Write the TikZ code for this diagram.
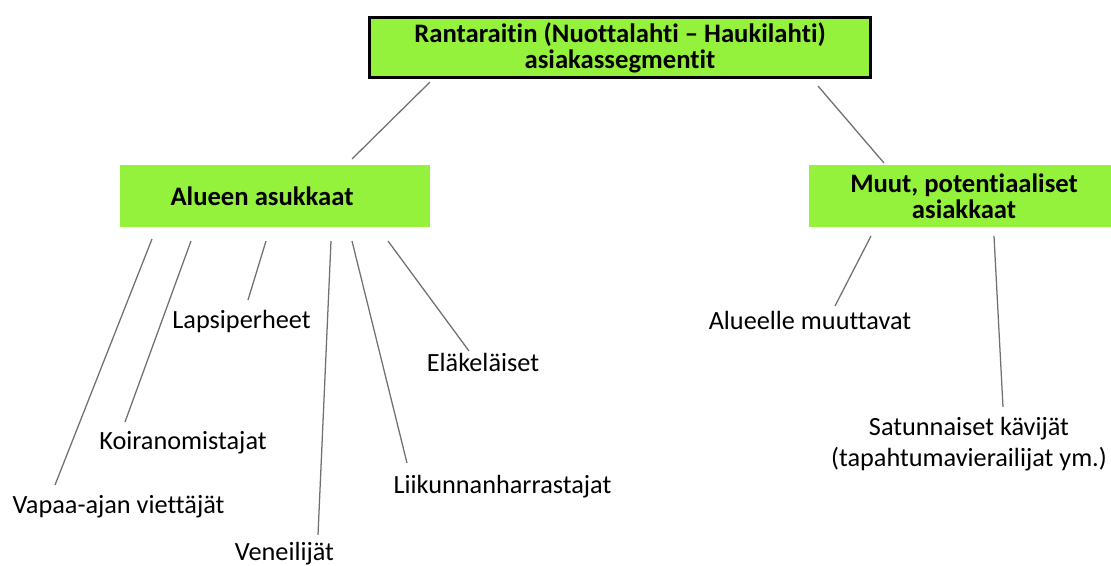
\documentclass[tikz,border=0pt]{standalone}
\usepackage{fontspec}
\setmainfont{Carlito}[Ligatures=NoCommon]
\definecolor{boxgreen}{RGB}{148,242,60}
\definecolor{linegray}{RGB}{112,112,112}
\begin{document}
\begin{tikzpicture}[x=0.75pt,y=-0.75pt,
  greenbox/.style={fill=boxgreen, draw=none, align=center, inner sep=0pt,
    font=\bfseries\fontsize{20}{19.5}\selectfont},
  lbl/.style={font=\fontsize{19.7}{23.25}\selectfont, inner sep=0pt, anchor=base},
  conn/.style={draw=linegray, line width=0.95pt}]
\useasboundingbox (0,0) rectangle (1111,565);
\clip (0,0) rectangle (1111,565);
% boxes
\node[greenbox, draw=black, line width=2.2pt, minimum width=375.75pt, minimum height=45pt]
  (root) at (620,47.5) {Rantaraitin (Nuottalahti – Haukilahti)\\asiakassegmentit};
\node[greenbox, minimum width=232.5pt, minimum height=46.5pt]
  (alueen) at (275,196) {Alueen asukkaat\hspace*{19.5pt}};
\node[greenbox, minimum width=232.5pt, minimum height=46.5pt]
  (muut) at (964,196) {Muut, potentiaaliset\\asiakkaat};
% labels
\node[lbl] (lapsi) at (241.5,328) {Lapsiperheet};
\node[lbl] (koira) at (183,449) {Koiranomistajat};
\node[lbl] (vapaa) at (118.5,513) {Vapaa-ajan viettäjät};
\node[lbl] (vene) at (284.5,560) {Veneilijät};
\node[lbl] (liik) at (502.5,493) {Liikunnanharrastajat};
\node[lbl] (elake) at (483,371) {Eläkeläiset};
\node[lbl] (alueelle) at (810,329) {Alueelle muuttavat};
\node[lbl, align=center, anchor=north] (satun) at (969,417) {Satunnaiset kävijät\\(tapahtumavierailijat ym.)};
% connector end points
\coordinate (r1) at (430,82);   \coordinate (a0) at (352,159);
\coordinate (r2) at (818,86);   \coordinate (m0) at (884,163);
\coordinate (a1) at (152,239);  \coordinate (vapaaT) at (55,485);
\coordinate (a2) at (191,241);  \coordinate (koiraT) at (125,422);
\coordinate (a3) at (266,241);  \coordinate (lapsiT) at (248,300);
\coordinate (a4) at (331,241);  \coordinate (veneT) at (318,535);
\coordinate (a5) at (352,241);  \coordinate (liikT) at (407,463);
\coordinate (a6) at (388,241);  \coordinate (elakeT) at (469,351);
\coordinate (m1) at (871,236);  \coordinate (alueelleT) at (835,306);
\coordinate (m2) at (994,236);  \coordinate (satunT) at (1003,407);
% connectors
\draw[conn] (r1) -- (a0);
\draw[conn] (r2) -- (m0);
\draw[conn] (a1) -- (vapaaT);
\draw[conn] (a2) -- (koiraT);
\draw[conn] (a3) -- (lapsiT);
\draw[conn] (a4) -- (veneT);
\draw[conn] (a5) -- (liikT);
\draw[conn] (a6) -- (elakeT);
\draw[conn] (m1) -- (alueelleT);
\draw[conn] (m2) -- (satunT);
\end{tikzpicture}
\end{document}
